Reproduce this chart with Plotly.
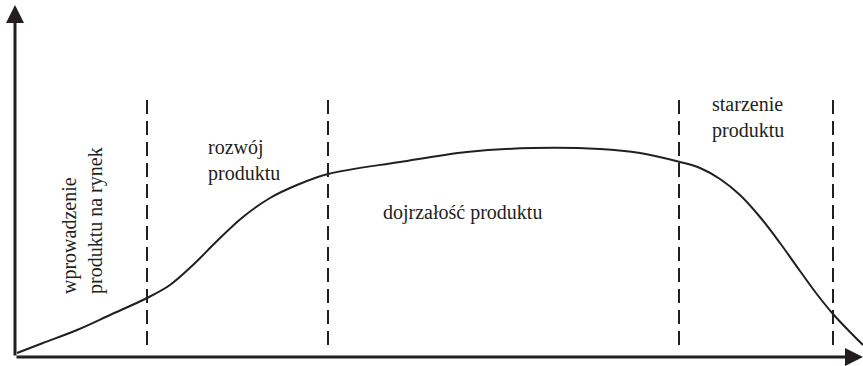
import plotly.graph_objects as go

# product life cycle curve (time vs. sales, arbitrary units)
time = [2, 28, 62, 95, 132, 155, 178, 202, 228, 255, 282, 313, 385, 452, 518,
        585, 625, 665, 685, 705, 725, 745, 765, 785, 801, 818, 835, 848]
sales = [4, 14, 27, 42, 59, 72, 92, 116, 140, 159, 172, 183, 195, 205, 209,
         208, 204, 195, 189, 178, 162, 140, 114, 86, 64, 43, 25, 12]

# phase boundaries
boundaries = [132, 313, 664, 818]
boundary_top = 257
boundary_bottom = 5

# axis extents
x_end = 848
y_end = 352

phase_labels = [
    "wprowadzenie<br>produktu na rynek",
    "rozwój<br>produktu",
    "dojrzałość produktu",
    "starzenie<br>produktu",
]
label_x = [67, 191, 447, 695]
label_y = [136, 197, 145, 240]

INK = "#231f20"
FONT = dict(family="Liberation Serif, DejaVu Serif", size=20, color=INK)

fig = go.Figure()

for b in boundaries:
    fig.add_trace(go.Scatter(
        x=[b, b], y=[boundary_top, boundary_bottom], mode="lines",
        line=dict(color=INK, width=2, dash="14px,7px"),
        hoverinfo="skip", showlegend=False,
    ))

fig.add_trace(go.Scatter(
    x=time, y=sales, mode="lines",
    line=dict(color=INK, width=2, shape="spline", smoothing=1),
    showlegend=False,
))

# axes with arrowheads
for (hx, hy) in [(x_end, 0), (0, y_end)]:
    fig.add_annotation(
        x=hx, y=hy, ax=0, ay=0, xref="x", yref="y", axref="x", ayref="y",
        showarrow=True, arrowhead=2, arrowsize=1.2, arrowwidth=3,
        arrowcolor=INK, text="",
    )

# phase labels
fig.add_annotation(x=label_x[0], y=label_y[0], text=phase_labels[0],
                   textangle=-90, align="left", showarrow=False,
                   xanchor="center", yanchor="middle", font=FONT)
fig.add_annotation(x=label_x[1], y=label_y[1], text=phase_labels[1],
                   align="left", showarrow=False,
                   xanchor="left", yanchor="middle", font=FONT)
fig.add_annotation(x=label_x[2], y=label_y[2], text=phase_labels[2],
                   showarrow=False, xanchor="center", yanchor="middle", font=FONT)
fig.add_annotation(x=label_x[3], y=label_y[3], text=phase_labels[3],
                   align="left", showarrow=False,
                   xanchor="left", yanchor="middle", font=FONT)

fig.update_layout(
    width=863, height=366, autosize=False,
    margin=dict(l=0, r=0, t=0, b=0),
    paper_bgcolor="white", plot_bgcolor="white",
    xaxis=dict(range=[-15, 848], visible=False),
    yaxis=dict(range=[-9, 357], visible=False),
)

# the page body has a default 8px margin; drop it so the figure fills the window
fig.write_html("out.html", config={"displayModeBar": False},
               post_script="document.body.style.margin = '0';")
